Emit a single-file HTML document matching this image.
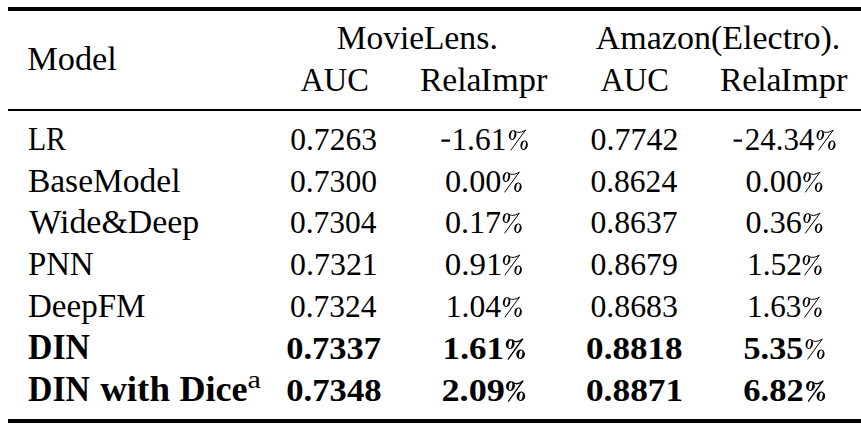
<!DOCTYPE html>
<html><head><meta charset="utf-8">
<style>
html,body{margin:0;padding:0;background:#fff;}
body{width:861px;height:426px;overflow:hidden;}
svg{display:block;}
text{font-family:"Liberation Serif",serif;fill:#000;}
.b{font-weight:bold;}
</style></head><body>
<svg width="861" height="426" viewBox="0 0 861 426">
<rect x="8" y="7" width="853" height="4" fill="#000"/>
<rect x="8" y="109" width="853" height="2" fill="#000"/>
<rect x="8" y="419" width="853" height="4" fill="#000"/>
<rect class="hy" x="441.4" y="139.5" width="8.7" height="2.2" rx="0.3" fill="#000"/>
<rect class="hy" x="733.6" y="139.5" width="8.4" height="2.2" rx="0.3" fill="#000"/>

<text id="model" x="27.24" y="70.00" font-size="34.5" textLength="89.67" lengthAdjust="spacingAndGlyphs">Model</text>
<text id="ml1" x="336.73" y="49.30" font-size="34.5" textLength="87.29" lengthAdjust="spacingAndGlyphs">Movie</text>
<text id="ml2" x="423.66" y="49.30" font-size="34.5" textLength="74.28" lengthAdjust="spacingAndGlyphs">Lens.</text>
<text id="am" x="595.75" y="49.30" font-size="34.5" textLength="244.52" lengthAdjust="spacingAndGlyphs">Amazon(Electro).</text>
<text id="auc1" x="300.39" y="90.70" font-size="34.5" textLength="68.50" lengthAdjust="spacingAndGlyphs">AUC</text>
<text id="ri1a" x="419.88" y="90.70" font-size="34.5" textLength="61.63" lengthAdjust="spacingAndGlyphs">Rela</text>
<text id="ri1b" x="480.53" y="90.70" font-size="34.5" textLength="66.88" lengthAdjust="spacingAndGlyphs">Impr</text>
<text id="auc2" x="600.39" y="90.70" font-size="34.5" textLength="68.50" lengthAdjust="spacingAndGlyphs">AUC</text>
<text id="ri2a" x="719.88" y="90.70" font-size="34.5" textLength="61.63" lengthAdjust="spacingAndGlyphs">Rela</text>
<text id="ri2b" x="780.53" y="90.70" font-size="34.5" textLength="66.88" lengthAdjust="spacingAndGlyphs">Impr</text>
<text id="n0" x="27.88" y="150.00" font-size="34.5" textLength="38.12" lengthAdjust="spacingAndGlyphs">LR</text>
<text id="n1" x="27.89" y="192.00" font-size="34.5" textLength="152.61" lengthAdjust="spacingAndGlyphs">BaseModel</text>
<text id="n2" x="29.35" y="233.00" font-size="34.5" textLength="169.91" lengthAdjust="spacingAndGlyphs">Wide&amp;Deep</text>
<text id="n3" x="27.88" y="275.00" font-size="34.5" textLength="65.74" lengthAdjust="spacingAndGlyphs">PNN</text>
<text id="n4" x="27.89" y="317.00" font-size="34.5" textLength="117.63" lengthAdjust="spacingAndGlyphs">DeepFM</text>
<text id="n5" x="27.99" y="359.00" font-size="35" textLength="62.02" lengthAdjust="spacingAndGlyphs" class="b">DIN</text>
<text id="n6a" x="27.99" y="401.00" font-size="35" textLength="62.02" lengthAdjust="spacingAndGlyphs" class="b">DIN</text>
<text id="n6b" x="100.15" y="401.00" font-size="35" textLength="69.85" lengthAdjust="spacingAndGlyphs" class="b">with</text>
<text id="n6c" x="179.49" y="401.00" font-size="35" textLength="68.13" lengthAdjust="spacingAndGlyphs" class="b">Dice</text>
<text id="sup" x="247.45" y="388.00" font-size="26" textLength="13.40" lengthAdjust="spacingAndGlyphs">a</text>
<text id="a1_0" x="290.18" y="150.00" font-size="31" textLength="86.84" lengthAdjust="spacingAndGlyphs">0.7263</text>
<text id="a2_0" x="590.51" y="150.00" font-size="31" textLength="87.89" lengthAdjust="spacingAndGlyphs">0.7742</text>
<text id="a1_1" x="290.02" y="192.00" font-size="31" textLength="87.00" lengthAdjust="spacingAndGlyphs">0.7300</text>
<text id="a2_1" x="590.43" y="192.00" font-size="31" textLength="86.73" lengthAdjust="spacingAndGlyphs">0.8624</text>
<text id="a1_2" x="290.03" y="233.00" font-size="31" textLength="86.48" lengthAdjust="spacingAndGlyphs">0.7304</text>
<text id="a2_2" x="590.52" y="233.00" font-size="31" textLength="87.09" lengthAdjust="spacingAndGlyphs">0.8637</text>
<text id="a1_3" x="290.12" y="275.00" font-size="31" textLength="87.70" lengthAdjust="spacingAndGlyphs">0.7321</text>
<text id="a2_3" x="590.42" y="275.00" font-size="31" textLength="87.52" lengthAdjust="spacingAndGlyphs">0.8679</text>
<text id="a1_4" x="290.03" y="317.00" font-size="31" textLength="86.48" lengthAdjust="spacingAndGlyphs">0.7324</text>
<text id="a2_4" x="590.42" y="317.00" font-size="31" textLength="87.52" lengthAdjust="spacingAndGlyphs">0.8683</text>
<text id="a1_5" x="286.28" y="359.00" font-size="31" textLength="94.78" lengthAdjust="spacingAndGlyphs" class="b">0.7337</text>
<text id="a2_5" x="586.08" y="359.00" font-size="31" textLength="96.53" lengthAdjust="spacingAndGlyphs" class="b">0.8818</text>
<text id="a1_6" x="286.27" y="401.00" font-size="31" textLength="95.31" lengthAdjust="spacingAndGlyphs" class="b">0.7348</text>
<text id="a2_6" x="585.92" y="401.00" font-size="31" textLength="97.32" lengthAdjust="spacingAndGlyphs" class="b">0.8871</text>
<text id="p0_0" x="451.43" y="150.00" font-size="31" textLength="54.95" lengthAdjust="spacingAndGlyphs">1.61</text>
<text id="p1_0" x="744.80" y="150.00" font-size="31" textLength="69.60" lengthAdjust="spacingAndGlyphs">24.34</text>
<text id="p0_1" x="444.96" y="192.00" font-size="31" textLength="56.43" lengthAdjust="spacingAndGlyphs">0.00</text>
<text id="p1_1" x="745.61" y="192.00" font-size="31" textLength="56.43" lengthAdjust="spacingAndGlyphs">0.00</text>
<text id="p0_2" x="444.97" y="233.00" font-size="31" textLength="56.16" lengthAdjust="spacingAndGlyphs">0.17</text>
<text id="p1_2" x="745.61" y="233.00" font-size="31" textLength="56.16" lengthAdjust="spacingAndGlyphs">0.36</text>
<text id="p0_3" x="444.74" y="275.00" font-size="31" textLength="57.60" lengthAdjust="spacingAndGlyphs">0.91</text>
<text id="p1_3" x="746.94" y="275.00" font-size="31" textLength="55.03" lengthAdjust="spacingAndGlyphs">1.52</text>
<text id="p0_4" x="445.69" y="317.00" font-size="31" textLength="55.29" lengthAdjust="spacingAndGlyphs">1.04</text>
<text id="p1_4" x="746.97" y="317.00" font-size="31" textLength="54.43" lengthAdjust="spacingAndGlyphs">1.63</text>
<text id="p0_5" x="442.63" y="359.00" font-size="31" textLength="61.30" lengthAdjust="spacingAndGlyphs" class="b">1.61</text>
<text id="p1_5" x="743.55" y="359.00" font-size="31" textLength="59.70" lengthAdjust="spacingAndGlyphs" class="b">5.35</text>
<text id="p0_6" x="441.48" y="401.00" font-size="31" textLength="63.43" lengthAdjust="spacingAndGlyphs" class="b">2.09</text>
<text id="p1_6" x="743.25" y="401.00" font-size="31" textLength="60.40" lengthAdjust="spacingAndGlyphs" class="b">6.82</text>
<g transform="translate(508.70 129.70)"><path d="M16.8 0.4 L2.3 20.3" stroke="#000" stroke-width="1" fill="none" stroke-linecap="round"/><g transform="rotate(12 3.9 5.4)"><path fill="#000" fill-rule="evenodd" d="M0.2 5.4a3.7 5 0 1 0 7.4 0a3.7 5 0 1 0 -7.4 0zM2.2 5.4a1.7 4.1 0 1 0 3.4 0a1.7 4.1 0 1 0 -3.4 0z"/></g><path d="M5.2 0.8 C8 3.4 12 3.3 16.6 0.5" fill="none" stroke="#000" stroke-width="1"/><g transform="rotate(12 15.4 15.5)"><path fill="#000" fill-rule="evenodd" d="M11.7 15.5a3.7 4.8 0 1 0 7.4 0a3.7 4.8 0 1 0 -7.4 0zM13.7 15.5a1.7 3.9 0 1 0 3.4 0a1.7 3.9 0 1 0 -3.4 0z"/></g></g>
<g transform="translate(816.40 129.70)"><path d="M16.8 0.4 L2.3 20.3" stroke="#000" stroke-width="1" fill="none" stroke-linecap="round"/><g transform="rotate(12 3.9 5.4)"><path fill="#000" fill-rule="evenodd" d="M0.2 5.4a3.7 5 0 1 0 7.4 0a3.7 5 0 1 0 -7.4 0zM2.2 5.4a1.7 4.1 0 1 0 3.4 0a1.7 4.1 0 1 0 -3.4 0z"/></g><path d="M5.2 0.8 C8 3.4 12 3.3 16.6 0.5" fill="none" stroke="#000" stroke-width="1"/><g transform="rotate(12 15.4 15.5)"><path fill="#000" fill-rule="evenodd" d="M11.7 15.5a3.7 4.8 0 1 0 7.4 0a3.7 4.8 0 1 0 -7.4 0zM13.7 15.5a1.7 3.9 0 1 0 3.4 0a1.7 3.9 0 1 0 -3.4 0z"/></g></g>
<g transform="translate(502.50 171.70)"><path d="M16.8 0.4 L2.3 20.3" stroke="#000" stroke-width="1" fill="none" stroke-linecap="round"/><g transform="rotate(12 3.9 5.4)"><path fill="#000" fill-rule="evenodd" d="M0.2 5.4a3.7 5 0 1 0 7.4 0a3.7 5 0 1 0 -7.4 0zM2.2 5.4a1.7 4.1 0 1 0 3.4 0a1.7 4.1 0 1 0 -3.4 0z"/></g><path d="M5.2 0.8 C8 3.4 12 3.3 16.6 0.5" fill="none" stroke="#000" stroke-width="1"/><g transform="rotate(12 15.4 15.5)"><path fill="#000" fill-rule="evenodd" d="M11.7 15.5a3.7 4.8 0 1 0 7.4 0a3.7 4.8 0 1 0 -7.4 0zM13.7 15.5a1.7 3.9 0 1 0 3.4 0a1.7 3.9 0 1 0 -3.4 0z"/></g></g>
<g transform="translate(803.20 171.70)"><path d="M16.8 0.4 L2.3 20.3" stroke="#000" stroke-width="1" fill="none" stroke-linecap="round"/><g transform="rotate(12 3.9 5.4)"><path fill="#000" fill-rule="evenodd" d="M0.2 5.4a3.7 5 0 1 0 7.4 0a3.7 5 0 1 0 -7.4 0zM2.2 5.4a1.7 4.1 0 1 0 3.4 0a1.7 4.1 0 1 0 -3.4 0z"/></g><path d="M5.2 0.8 C8 3.4 12 3.3 16.6 0.5" fill="none" stroke="#000" stroke-width="1"/><g transform="rotate(12 15.4 15.5)"><path fill="#000" fill-rule="evenodd" d="M11.7 15.5a3.7 4.8 0 1 0 7.4 0a3.7 4.8 0 1 0 -7.4 0zM13.7 15.5a1.7 3.9 0 1 0 3.4 0a1.7 3.9 0 1 0 -3.4 0z"/></g></g>
<g transform="translate(502.50 212.70)"><path d="M16.8 0.4 L2.3 20.3" stroke="#000" stroke-width="1" fill="none" stroke-linecap="round"/><g transform="rotate(12 3.9 5.4)"><path fill="#000" fill-rule="evenodd" d="M0.2 5.4a3.7 5 0 1 0 7.4 0a3.7 5 0 1 0 -7.4 0zM2.2 5.4a1.7 4.1 0 1 0 3.4 0a1.7 4.1 0 1 0 -3.4 0z"/></g><path d="M5.2 0.8 C8 3.4 12 3.3 16.6 0.5" fill="none" stroke="#000" stroke-width="1"/><g transform="rotate(12 15.4 15.5)"><path fill="#000" fill-rule="evenodd" d="M11.7 15.5a3.7 4.8 0 1 0 7.4 0a3.7 4.8 0 1 0 -7.4 0zM13.7 15.5a1.7 3.9 0 1 0 3.4 0a1.7 3.9 0 1 0 -3.4 0z"/></g></g>
<g transform="translate(803.20 212.70)"><path d="M16.8 0.4 L2.3 20.3" stroke="#000" stroke-width="1" fill="none" stroke-linecap="round"/><g transform="rotate(12 3.9 5.4)"><path fill="#000" fill-rule="evenodd" d="M0.2 5.4a3.7 5 0 1 0 7.4 0a3.7 5 0 1 0 -7.4 0zM2.2 5.4a1.7 4.1 0 1 0 3.4 0a1.7 4.1 0 1 0 -3.4 0z"/></g><path d="M5.2 0.8 C8 3.4 12 3.3 16.6 0.5" fill="none" stroke="#000" stroke-width="1"/><g transform="rotate(12 15.4 15.5)"><path fill="#000" fill-rule="evenodd" d="M11.7 15.5a3.7 4.8 0 1 0 7.4 0a3.7 4.8 0 1 0 -7.4 0zM13.7 15.5a1.7 3.9 0 1 0 3.4 0a1.7 3.9 0 1 0 -3.4 0z"/></g></g>
<g transform="translate(502.70 254.70)"><path d="M16.8 0.4 L2.3 20.3" stroke="#000" stroke-width="1" fill="none" stroke-linecap="round"/><g transform="rotate(12 3.9 5.4)"><path fill="#000" fill-rule="evenodd" d="M0.2 5.4a3.7 5 0 1 0 7.4 0a3.7 5 0 1 0 -7.4 0zM2.2 5.4a1.7 4.1 0 1 0 3.4 0a1.7 4.1 0 1 0 -3.4 0z"/></g><path d="M5.2 0.8 C8 3.4 12 3.3 16.6 0.5" fill="none" stroke="#000" stroke-width="1"/><g transform="rotate(12 15.4 15.5)"><path fill="#000" fill-rule="evenodd" d="M11.7 15.5a3.7 4.8 0 1 0 7.4 0a3.7 4.8 0 1 0 -7.4 0zM13.7 15.5a1.7 3.9 0 1 0 3.4 0a1.7 3.9 0 1 0 -3.4 0z"/></g></g>
<g transform="translate(802.50 254.70)"><path d="M16.8 0.4 L2.3 20.3" stroke="#000" stroke-width="1" fill="none" stroke-linecap="round"/><g transform="rotate(12 3.9 5.4)"><path fill="#000" fill-rule="evenodd" d="M0.2 5.4a3.7 5 0 1 0 7.4 0a3.7 5 0 1 0 -7.4 0zM2.2 5.4a1.7 4.1 0 1 0 3.4 0a1.7 4.1 0 1 0 -3.4 0z"/></g><path d="M5.2 0.8 C8 3.4 12 3.3 16.6 0.5" fill="none" stroke="#000" stroke-width="1"/><g transform="rotate(12 15.4 15.5)"><path fill="#000" fill-rule="evenodd" d="M11.7 15.5a3.7 4.8 0 1 0 7.4 0a3.7 4.8 0 1 0 -7.4 0zM13.7 15.5a1.7 3.9 0 1 0 3.4 0a1.7 3.9 0 1 0 -3.4 0z"/></g></g>
<g transform="translate(502.70 296.70)"><path d="M16.8 0.4 L2.3 20.3" stroke="#000" stroke-width="1" fill="none" stroke-linecap="round"/><g transform="rotate(12 3.9 5.4)"><path fill="#000" fill-rule="evenodd" d="M0.2 5.4a3.7 5 0 1 0 7.4 0a3.7 5 0 1 0 -7.4 0zM2.2 5.4a1.7 4.1 0 1 0 3.4 0a1.7 4.1 0 1 0 -3.4 0z"/></g><path d="M5.2 0.8 C8 3.4 12 3.3 16.6 0.5" fill="none" stroke="#000" stroke-width="1"/><g transform="rotate(12 15.4 15.5)"><path fill="#000" fill-rule="evenodd" d="M11.7 15.5a3.7 4.8 0 1 0 7.4 0a3.7 4.8 0 1 0 -7.4 0zM13.7 15.5a1.7 3.9 0 1 0 3.4 0a1.7 3.9 0 1 0 -3.4 0z"/></g></g>
<g transform="translate(802.50 296.70)"><path d="M16.8 0.4 L2.3 20.3" stroke="#000" stroke-width="1" fill="none" stroke-linecap="round"/><g transform="rotate(12 3.9 5.4)"><path fill="#000" fill-rule="evenodd" d="M0.2 5.4a3.7 5 0 1 0 7.4 0a3.7 5 0 1 0 -7.4 0zM2.2 5.4a1.7 4.1 0 1 0 3.4 0a1.7 4.1 0 1 0 -3.4 0z"/></g><path d="M5.2 0.8 C8 3.4 12 3.3 16.6 0.5" fill="none" stroke="#000" stroke-width="1"/><g transform="rotate(12 15.4 15.5)"><path fill="#000" fill-rule="evenodd" d="M11.7 15.5a3.7 4.8 0 1 0 7.4 0a3.7 4.8 0 1 0 -7.4 0zM13.7 15.5a1.7 3.9 0 1 0 3.4 0a1.7 3.9 0 1 0 -3.4 0z"/></g></g>
<g transform="translate(505.60 338.70)"><path d="M17 0.3 L2.6 20.4" stroke="#000" stroke-width="1.3" fill="none" stroke-linecap="round"/><g transform="rotate(10 4.7 5.4)"><path fill="#000" fill-rule="evenodd" d="M0.2 5.4a4.4 5 0 1 0 8.8 0a4.4 5 0 1 0 -8.8 0zM3.1 5.4a1.6 4 0 1 0 3.2 0a1.6 4 0 1 0 -3.2 0z"/></g><path d="M6.3 0.9 C9 3.6 13 3.5 16.7 0.6" fill="none" stroke="#000" stroke-width="1.3"/><g transform="rotate(10 15 15.5)"><path fill="#000" fill-rule="evenodd" d="M10.7 15.5a4.3 4.8 0 1 0 8.6 0a4.3 4.8 0 1 0 -8.6 0zM13.5 15.5a1.6 3.8 0 1 0 3.2 0a1.6 3.8 0 1 0 -3.2 0z"/></g></g>
<g transform="translate(805.40 338.70)"><path d="M16.8 0.4 L2.3 20.3" stroke="#000" stroke-width="1" fill="none" stroke-linecap="round"/><g transform="rotate(12 3.9 5.4)"><path fill="#000" fill-rule="evenodd" d="M0.2 5.4a3.7 5 0 1 0 7.4 0a3.7 5 0 1 0 -7.4 0zM2.2 5.4a1.7 4.1 0 1 0 3.4 0a1.7 4.1 0 1 0 -3.4 0z"/></g><path d="M5.2 0.8 C8 3.4 12 3.3 16.6 0.5" fill="none" stroke="#000" stroke-width="1"/><g transform="rotate(12 15.4 15.5)"><path fill="#000" fill-rule="evenodd" d="M11.7 15.5a3.7 4.8 0 1 0 7.4 0a3.7 4.8 0 1 0 -7.4 0zM13.7 15.5a1.7 3.9 0 1 0 3.4 0a1.7 3.9 0 1 0 -3.4 0z"/></g></g>
<g transform="translate(505.90 380.70)"><path d="M17 0.3 L2.6 20.4" stroke="#000" stroke-width="1.3" fill="none" stroke-linecap="round"/><g transform="rotate(10 4.7 5.4)"><path fill="#000" fill-rule="evenodd" d="M0.2 5.4a4.4 5 0 1 0 8.8 0a4.4 5 0 1 0 -8.8 0zM3.1 5.4a1.6 4 0 1 0 3.2 0a1.6 4 0 1 0 -3.2 0z"/></g><path d="M6.3 0.9 C9 3.6 13 3.5 16.7 0.6" fill="none" stroke="#000" stroke-width="1.3"/><g transform="rotate(10 15 15.5)"><path fill="#000" fill-rule="evenodd" d="M10.7 15.5a4.3 4.8 0 1 0 8.6 0a4.3 4.8 0 1 0 -8.6 0zM13.5 15.5a1.6 3.8 0 1 0 3.2 0a1.6 3.8 0 1 0 -3.2 0z"/></g></g>
<g transform="translate(805.90 380.70)"><path d="M17 0.3 L2.6 20.4" stroke="#000" stroke-width="1.3" fill="none" stroke-linecap="round"/><g transform="rotate(10 4.7 5.4)"><path fill="#000" fill-rule="evenodd" d="M0.2 5.4a4.4 5 0 1 0 8.8 0a4.4 5 0 1 0 -8.8 0zM3.1 5.4a1.6 4 0 1 0 3.2 0a1.6 4 0 1 0 -3.2 0z"/></g><path d="M6.3 0.9 C9 3.6 13 3.5 16.7 0.6" fill="none" stroke="#000" stroke-width="1.3"/><g transform="rotate(10 15 15.5)"><path fill="#000" fill-rule="evenodd" d="M10.7 15.5a4.3 4.8 0 1 0 8.6 0a4.3 4.8 0 1 0 -8.6 0zM13.5 15.5a1.6 3.8 0 1 0 3.2 0a1.6 3.8 0 1 0 -3.2 0z"/></g></g>
</svg></body></html>
